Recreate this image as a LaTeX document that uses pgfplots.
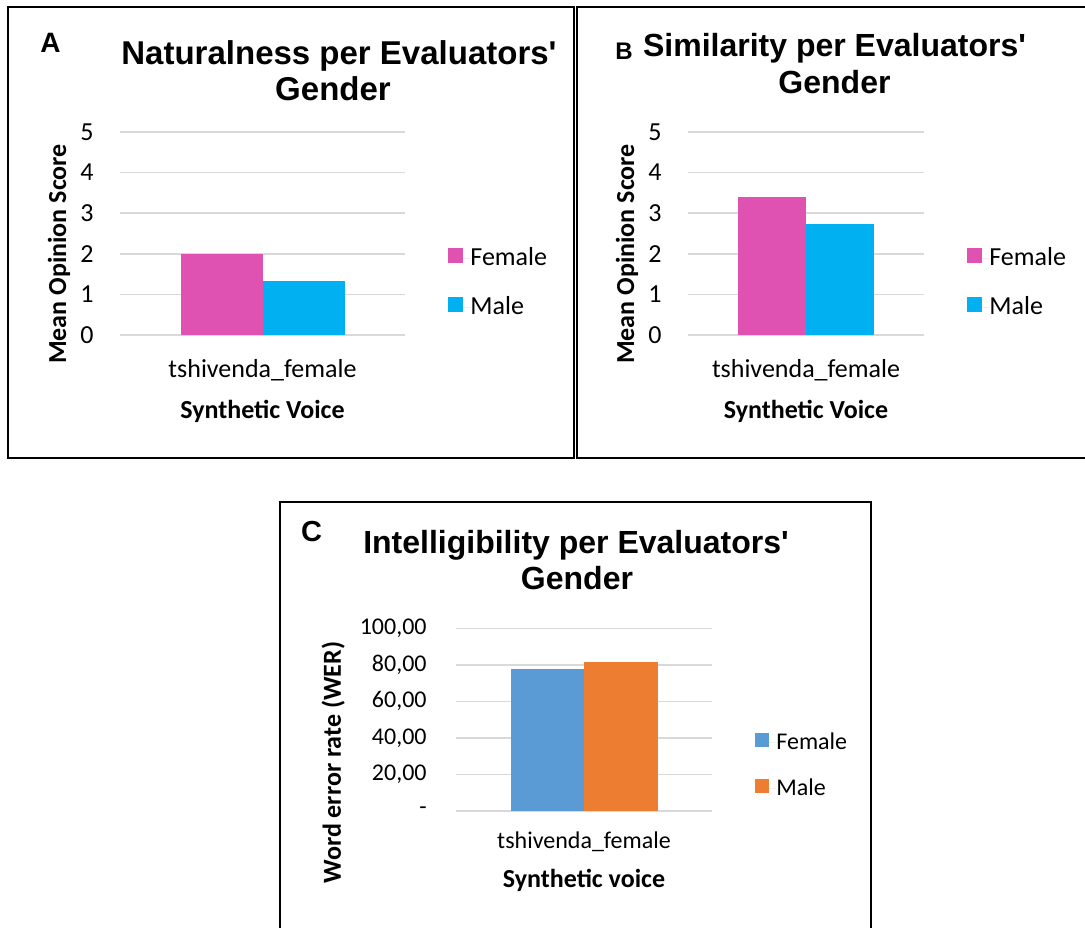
\documentclass[border=0pt]{standalone}
\usepackage{fontspec}
\usepackage{pgfplots}
\pgfplotsset{compat=1.18}
\setmainfont{Carlito}
\newfontfamily\arial{Liberation Sans}
\definecolor{femc}{HTML}{DF52B1}
\definecolor{malec}{HTML}{00B0F0}
\definecolor{femC}{HTML}{5B9BD5}
\definecolor{maleC}{HTML}{ED7D31}
\definecolor{gridc}{HTML}{D9D9D9}
\pgfplotsset{
  mybar/.style={
    scale only axis, ymin=0, xmin=-1, xmax=1,
    xtick={0}, xticklabels={tshivenda\_female},
    axis line style={draw=none}, major tick length=0pt,
    ymajorgrids, grid style={color=gridc, line width=0.75pt},
    ybar=0pt,
    /pgf/number format/assume math mode=true,
    tick label style={font=\fontsize{13pt}{15pt}\selectfont, text=black},
    yticklabel style={anchor=east, inner sep=0pt, xshift=-13pt},
    xticklabel style={anchor=base, inner sep=0pt, yshift=-21pt},
    label style={font=\bfseries\fontsize{13pt}{15pt}\selectfont, text=black},
    legend image code/.code={\fill[##1] (0pt,-2.5pt) rectangle (7.5pt,5pt); \path (0pt,0pt) -- (11pt,0pt);},
    legend cell align=left,
    legend style={draw=none, fill=none, anchor=north west, inner sep=0pt,
      font=\fontsize{13pt}{15pt}\selectfont,
      nodes={inner sep=0pt}, row sep=14pt},
  }
}
\begin{document}
\begin{tikzpicture}
\useasboundingbox (0,0) rectangle (542.5pt,-463.5pt);
\clip (0,0) rectangle (542.5pt,-463.5pt);
% frames
\draw[line width=1.2pt] (4pt,-3.5pt) rectangle (287pt,-229pt);
\draw[line width=1.2pt] (288.5pt,-3.5pt) rectangle (546pt,-229pt);
\draw[line width=1.2pt] (140pt,-251pt) rectangle (435.5pt,-470pt);
% titles
\node[anchor=base, font=\arial\bfseries\fontsize{16.5pt}{18pt}\selectfont, inner sep=0pt] at (169.5pt,-32pt) {Naturalness per Evaluators'};
\node[anchor=base, font=\arial\bfseries\fontsize{16.5pt}{18pt}\selectfont, inner sep=0pt] at (166.5pt,-50pt) {Gender};
\node[anchor=base, font=\arial\bfseries\fontsize{16pt}{18pt}\selectfont, inner sep=0pt] at (417.25pt,-28pt) {Similarity per Evaluators'};
\node[anchor=base, font=\arial\bfseries\fontsize{16pt}{18pt}\selectfont, inner sep=0pt] at (417.25pt,-46.5pt) {Gender};
\node[anchor=base, font=\arial\bfseries\fontsize{16pt}{18pt}\selectfont, inner sep=0pt] at (288pt,-276.5pt) {Intelligibility per Evaluators'};
\node[anchor=base, font=\arial\bfseries\fontsize{16pt}{18pt}\selectfont, inner sep=0pt] at (288.5pt,-294.5pt) {Gender};
% panel letters
\node[anchor=base, font=\arial\bfseries\fontsize{14pt}{16pt}\selectfont, inner sep=0pt] at (25.25pt,-26pt) {A};
\node[anchor=base, font=\arial\bfseries\fontsize{12pt}{14pt}\selectfont, inner sep=0pt] at (312pt,-29.5pt) {B};
\node[anchor=base, font=\arial\bfseries\fontsize{14.5pt}{16pt}\selectfont, inner sep=0pt] at (155.75pt,-270.5pt) {C};

% Panel A
\begin{axis}[mybar, at={(60pt,-167.5pt)}, anchor=south west,
  width=142.5pt, height=101.5pt, ymax=5, ytick={0,1,2,3,4,5}, bar width=41pt,
  ylabel={Mean Opinion Score}, xlabel={Synthetic Voice},
  ylabel style={at={(axis description cs:-0.214,0.399)}, anchor=center},
  xlabel style={at={(axis description cs:0.5,-0.409)}, anchor=base},
  legend style={at={(axis description cs:1.151,0.433)}}]
\addplot[fill=femc, draw=none] coordinates {(0,1.99)};
\addplot[fill=malec, draw=none] coordinates {(0,1.34)};
\legend{Female, Male}
\end{axis}

% Panel B
\begin{axis}[mybar, at={(344pt,-167.5pt)}, anchor=south west,
  width=118pt, height=101.5pt, ymax=5, ytick={0,1,2,3,4,5}, bar width=34pt,
  ylabel={Mean Opinion Score}, xlabel={Synthetic Voice},
  ylabel style={at={(axis description cs:-0.258,0.399)}, anchor=center},
  xlabel style={at={(axis description cs:0.5,-0.409)}, anchor=base},
  legend style={at={(axis description cs:1.182,0.433)}}]
\addplot[fill=femc, draw=none] coordinates {(0,3.39)};
\addplot[fill=malec, draw=none] coordinates {(0,2.73)};
\legend{Female, Male}
\end{axis}

% Panel C
\begin{axis}[mybar, at={(228pt,-405.5pt)}, anchor=south west,
  width=128pt, height=91.35pt, ymax=100, ytick={0,20,40,60,80,100},
  yticklabels={{-\hspace{5pt}},{20,00},{40,00},{60,00},{80,00},{100,00}},
  bar width=36.75pt,
  tick label style={font=\fontsize{12pt}{14pt}\selectfont},
  yticklabel style={xshift=-1.5pt},
  xticklabel style={yshift=2.5pt},
  ylabel={Word error rate (WER)}, xlabel={Synthetic voice},
  ylabel style={at={(axis description cs:-0.48,0.265)}, anchor=center},
  xlabel style={at={(axis description cs:0.5,-0.421)}, anchor=base},
  legend image code/.code={\fill[#1] (0pt,-2.3pt) rectangle (7pt,4.7pt); \path (0pt,0pt) -- (10.5pt,0pt);},
  legend style={at={(axis description cs:1.168,0.43)}, font=\fontsize{12pt}{14pt}\selectfont, row sep=13pt}]
\addplot[fill=femC, draw=none] coordinates {(0,77.7)};
\addplot[fill=maleC, draw=none] coordinates {(0,81.5)};
\legend{Female, Male}
\end{axis}
\end{tikzpicture}
\end{document}
